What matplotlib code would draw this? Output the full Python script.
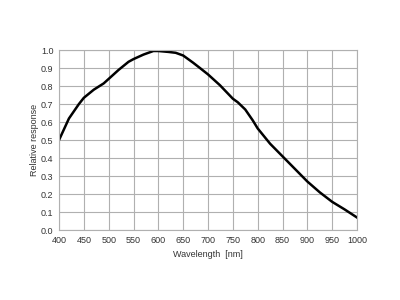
import numpy as np
import matplotlib
matplotlib.use('Agg')
import matplotlib.pyplot as plt

# spectral response
wavelength = [400, 420, 440, 450, 470, 490, 500, 520, 540, 550, 570, 590, 600,
              620, 635, 650, 670, 684, 700, 724, 750, 760, 775, 790, 800, 825,
              850, 875, 900, 925, 950, 975, 1000]
response = [0.50, 0.62, 0.70, 0.735, 0.78, 0.815, 0.84, 0.89, 0.935, 0.95, 0.975,
            0.995, 0.995, 0.99, 0.985, 0.97, 0.93, 0.90, 0.865, 0.805, 0.73, 0.71,
            0.67, 0.61, 0.565, 0.48, 0.41, 0.34, 0.27, 0.21, 0.157, 0.115, 0.07]

x_ticks = np.arange(400, 1001, 50)
y_ticks = np.arange(0, 1.01, 0.1)

plt.rcParams['font.family'] = ['Liberation Sans', 'DejaVu Sans']

fig = plt.figure(figsize=(4, 3), dpi=100)
ax = fig.add_axes([0.1475, 0.233, 0.745, 0.6])

ax.plot(wavelength, response, color='black', lw=1.8)

ax.set_xlim(400, 1000)
ax.set_ylim(0, 1.0)
ax.set_xticks(x_ticks)
ax.set_yticks(y_ticks)
ax.set_yticklabels(['%.1f' % v for v in y_ticks])
ax.grid(True, color='#b0b0b0', lw=0.8)
ax.tick_params(length=0, labelsize=6.5, colors='#333333', pad=4)
for s in ax.spines.values():
    s.set_color('#b0b0b0')
    s.set_linewidth(0.8)

ax.set_xlabel('Wavelength  [nm]', fontsize=6.5, color='#333333', labelpad=4)
ax.set_ylabel('Relative response', fontsize=6.5, color='#333333', labelpad=1.5)

fig.savefig('out.png', dpi=100)
